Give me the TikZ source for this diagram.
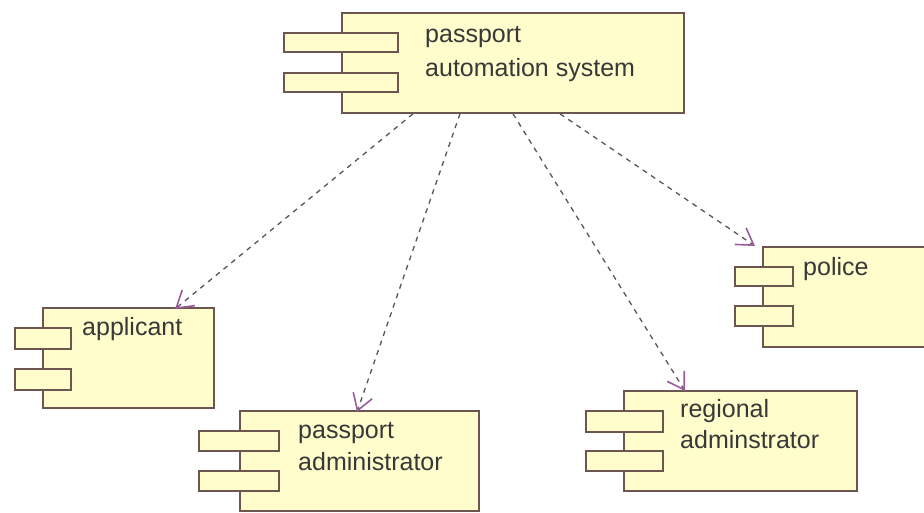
\documentclass[tikz,border=0pt]{standalone}
\usepackage{fontspec}
\setmainfont{Liberation Sans}
\usetikzlibrary{arrows.meta}
\definecolor{compfill}{HTML}{FFFDCB}
\definecolor{compdraw}{HTML}{6E5650}
\definecolor{deplinec}{HTML}{5E525E}
\definecolor{deptipc}{HTML}{9A5C9A}
\definecolor{txtc}{HTML}{383838}
\begin{document}
\begin{tikzpicture}[x=1pt,y=-1pt,
  body/.style={draw=compdraw,fill=compfill,line width=1.8pt,anchor=north west,inner sep=0pt,minimum height=100pt},
  tab/.style={draw=compdraw,fill=compfill,line width=1.6pt,anchor=north west,inner sep=0pt,minimum height=19pt},
  lbl/.style={anchor=base west,inner sep=0pt,text=txtc,font=\fontsize{25}{30}\selectfont},
  dep/.style={draw=deplinec,line width=1.3pt,dash pattern=on 5pt off 5pt,
    -{Straight Barb[length=16pt,width=20pt,line width=1.6pt,color=deptipc]}}]
\useasboundingbox (0,0) rectangle (924,512);
\clip (0,0) rectangle (924,512);
\fill[white] (0,0) rectangle (924,512);

% passport automation system
\node[body,minimum width=342pt] (pas) at (341,12) {};
\node[tab,minimum width=114pt] (pas1) at (283,32) {};
\node[tab,minimum width=114pt] (pas2) at (283,72) {};
\node[lbl] (pasa) at (425,42) {passport};
\node[lbl] (pasb) at (425,76) {automation system};

% applicant
\node[body,minimum width=171pt] (app) at (42,307) {};
\node[tab,minimum width=56pt,minimum height=21pt] (app1) at (14,327) {};
\node[tab,minimum width=56pt,minimum height=21pt] (app2) at (14,368) {};
\node[lbl] (appa) at (82,335) {applicant};

% police
\node[body,minimum width=180pt] (pol) at (762,246) {};
\node[tab,minimum width=58pt,minimum height=19pt] (pol1) at (734,266) {};
\node[tab,minimum width=58pt,minimum height=20pt] (pol2) at (734,305) {};
\node[lbl] (pola) at (803,275) {police};

% passport administrator
\node[body,minimum width=239pt] (adm) at (239,410) {};
\node[tab,minimum width=80pt,minimum height=20pt] (adm1) at (198,430) {};
\node[tab,minimum width=80pt,minimum height=20pt] (adm2) at (198,470) {};
\node[lbl] (adma) at (298,438) {passport};
\node[lbl] (admb) at (298,470) {administrator};

% regional adminstrator
\node[body,minimum width=233pt] (reg) at (623,390) {};
\node[tab,minimum width=77pt,minimum height=21pt] (reg1) at (585,410) {};
\node[tab,minimum width=77pt,minimum height=20pt] (reg2) at (585,450) {};
\node[lbl] (rega) at (680,417) {regional};
\node[lbl] (regb) at (680,448) {adminstrator};

% dependencies
\draw[dep] ([xshift=72pt]pas.south west) -- ([xshift=133pt,yshift=-2pt]app.north west);
\draw[dep] ([xshift=119pt]pas.south west) -- ([xshift=118pt,yshift=-2pt]adm.north west);
\draw[dep] ([xshift=172pt]pas.south west) -- ([xshift=62pt,yshift=-1pt]reg.north west);
\draw[dep] ([xshift=219pt]pas.south west) -- ([xshift=-7pt]pol.north west);
\end{tikzpicture}
\end{document}
